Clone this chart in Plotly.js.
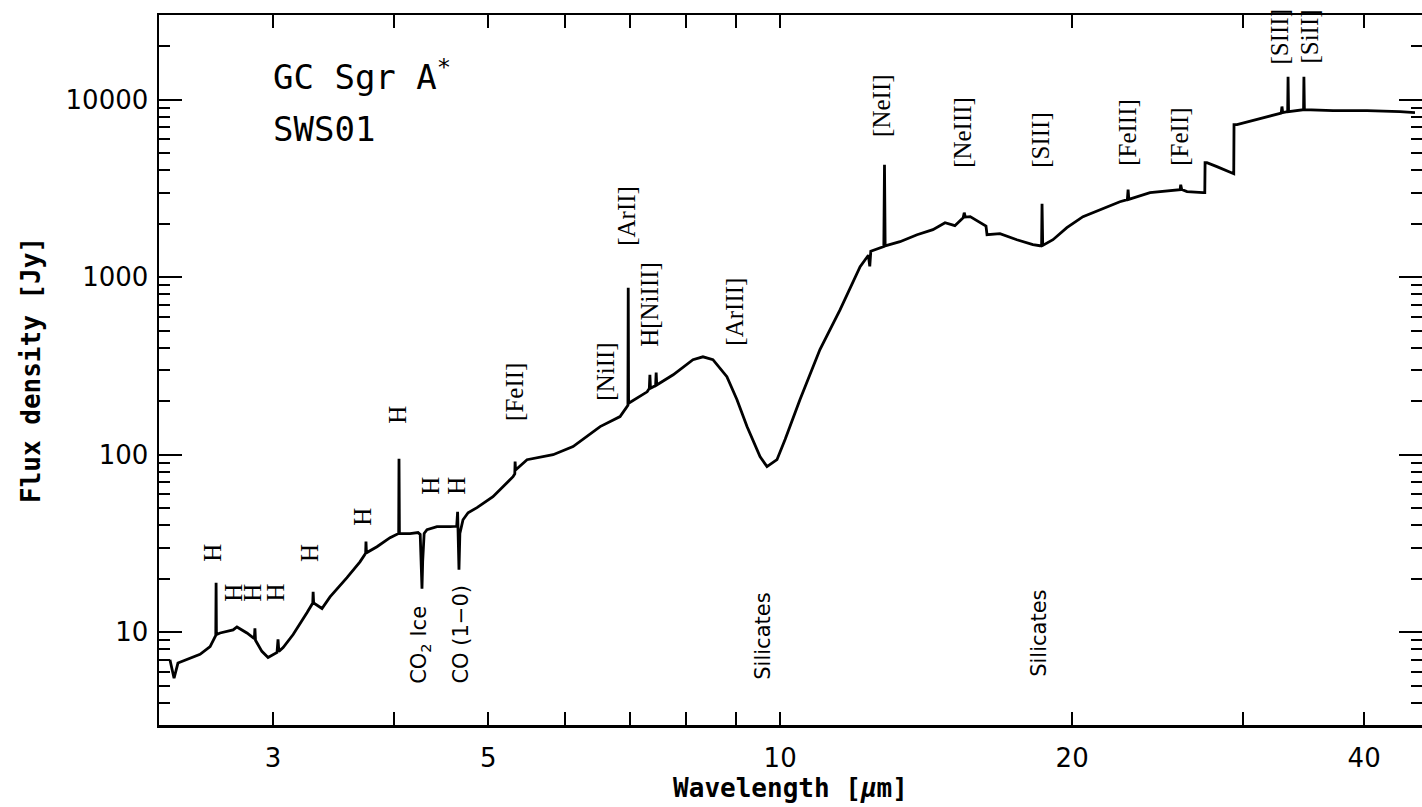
<!DOCTYPE html>
<html>
<head>
<meta charset="utf-8">
<script src="https://cdn.plot.ly/plotly-3.0.1.min.js"></script>
<style>html,body{margin:0;padding:0;background:#fff;}#chart{width:1422px;height:807px;}</style>
</head>
<body>
<div id="chart"></div>
<script>
// ---- data (wavelength in micron, flux density in Jy) ----
const wavelength = [
  2.349, 2.372, 2.394, 2.446, 2.523, 2.584, 2.615, 2.619, 2.621, 2.623, 2.646, 2.729, 2.754, 2.820,
  2.870, 2.874, 2.878, 2.922, 2.965, 3.029, 3.036, 3.042, 3.073, 3.147, 3.253, 3.297, 3.300, 3.304,
  3.370, 3.435, 3.576, 3.688, 3.738, 3.741, 3.745, 3.840, 3.961, 4.036, 4.043, 4.046, 4.050, 4.153,
  4.233, 4.255, 4.268, 4.273, 4.280, 4.295, 4.324, 4.428, 4.567, 4.640, 4.650, 4.658, 4.665, 4.675,
  4.710, 4.767, 4.869, 5.057, 5.304, 5.326, 5.330, 5.336, 5.483, 5.833, 6.116, 6.522, 6.838, 6.953,
  6.967, 6.972, 6.978, 7.292, 7.330, 7.340, 7.350, 7.440, 7.450, 7.460, 7.757, 8.130, 8.325, 8.525,
  8.812, 9.026, 9.243, 9.533, 9.692, 9.924, 10.12, 10.48, 10.99, 11.53, 12.09, 12.33, 12.37, 12.40,
  12.76, 12.79, 12.81, 12.83, 13.29, 13.84, 14.37, 14.79, 15.14, 15.44, 15.48, 15.52, 15.70, 16.19,
  16.30, 16.34, 16.85, 17.54, 18.22, 18.53, 18.60, 18.62, 18.65, 19.11, 19.75, 20.52, 21.37, 22.40,
  22.80, 22.84, 22.88, 24.06, 25.84, 25.88, 25.94, 26.27, 27.29, 27.40, 27.42, 27.54, 28.20, 29.30,
  29.35, 29.37, 29.58, 31.24, 32.85, 32.91, 32.97, 33.36, 33.39, 33.43, 34.64, 34.67, 34.71, 37.15,
  40.27, 43.55, 45.13
];
const flux = [
  7.0, 5.5, 6.7, 7.0, 7.5, 8.3, 9.4, 9.6, 19.0, 9.7, 9.9, 10.3, 10.7, 9.9,
  9.2, 10.5, 9.0, 7.8, 7.2, 7.7, 9.1, 7.8, 8.2, 9.7, 12.9, 14.6, 16.9, 14.6,
  13.6, 15.8, 20.3, 24.9, 27.8, 32.4, 28.0, 30.3, 34.1, 35.9, 36.0, 94.9, 36.0, 35.9,
  36.4, 35.5, 24, 17.6, 25, 36, 37.8, 39.3, 39.3, 39.5, 47.7, 35, 22.5, 36,
  43.0, 47.1, 50.3, 58.0, 75.2, 78, 91.4, 82, 93.7, 100, 111, 144, 164, 186,
  190, 873, 195, 226, 236, 282, 237, 245, 290, 247, 282, 343, 356, 343,
  275, 204, 144, 97.5, 85.6, 93.7, 122, 204, 391, 656, 1146, 1330, 1150, 1400,
  1486, 1490, 4305, 1500, 1585, 1735, 1852, 2028, 1950, 2163, 2309, 2180, 2193, 1977,
  1940, 1735, 1758, 1626, 1524, 1504, 1505, 2596, 1510, 1626, 1900, 2193, 2400, 2661,
  2733, 3112, 2745, 2992, 3112, 3318, 3120, 3033, 2992, 2992, 4416, 4416, 4195, 3828,
  3828, 7231, 7231, 7815, 8400, 9150, 8450, 8557, 13480, 8560, 8780, 13480, 8786, 8670,
  8670, 8557, 8446
];

// line identifications (label text, wavelength and flux level of the label)
const lineNames = ["H", "H", "H", "H", "H", "H", "H", "H", "H",
  "[FeII]", "[NiII]", "[ArII]", "H[NiIII]", "[ArIII]",
  "[NeII]", "[NeIII]", "[SIII]", "[FeIII]", "[FeII]", "[SIII]", "[SiII]"];
const lineWave = [2.602, 2.735, 2.861, 3.021, 3.276, 3.714, 4.036, 4.365, 4.644,
  5.330, 6.600, 6.953, 7.344, 8.982,
  12.74, 15.44, 18.58, 22.84, 25.84, 32.75, 35.17];
const lineLevel = [28.0, 16.7, 16.7, 16.7, 28.0, 44.7, 168, 66.9, 66.9,
  226, 294, 2220, 700, 639,
  9250, 6516, 5953, 6516, 6190, 22650, 22650];

// absorption features
const featureNames = ["CO<sub>2</sub> Ice", "CO (1\u22120)", "Silicates", "Silicates"];
const featureWave = [4.254, 4.677, 9.60, 18.49];
const featureLevel = [8.5, 9.7, 9.55, 9.8];

// axis ticks
const xTickVals = [3, 5, 10, 20, 40];
const xTickText = ["3", "5", "10", "20", "40"];
const xMinorVals = [4, 6, 7, 8, 9, 30];
const yTickVals = [10, 100, 1000, 10000];
const yTickText = ["10", "100", "1000", "10000"];

// ---- figure ----
const lg = Math.log10;
const annotations = [];
lineNames.forEach((t, i) => annotations.push({
  x: lg(lineWave[i]), y: lg(lineLevel[i]), xref: "x", yref: "y", text: t,
  showarrow: false, textangle: -90, xanchor: "center", yanchor: "middle",
  font: {family: "Liberation Serif", size: 25, color: "#000"}
}));
featureNames.forEach((t, i) => annotations.push({
  x: lg(featureWave[i]), y: lg(featureLevel[i]), xref: "x", yref: "y", text: t,
  showarrow: false, textangle: -90, xanchor: "center", yanchor: "middle",
  font: {family: "DejaVu Sans", size: 21, color: "#000"}
}));
annotations.push({
  x: 0.0887, y: 0.9155, xref: "paper", yref: "paper", text: "GC Sgr A<sup>*</sup>",
  showarrow: false, xanchor: "left", yanchor: "middle",
  font: {family: "DejaVu Sans Mono", size: 34, color: "#000"}
});
annotations.push({
  x: 0.0887, y: 0.839, xref: "paper", yref: "paper", text: "SWS01",
  showarrow: false, xanchor: "left", yanchor: "middle",
  font: {family: "DejaVu Sans Mono", size: 34, color: "#000"}
});

const trace = {
  x: wavelength, y: flux, type: "scatter", mode: "lines",
  line: {color: "#000", width: 2.8}, hoverinfo: "skip"
};

const layout = {
  width: 1422, height: 807,
  margin: {l: 159, r: 0, t: 15, b: 82},
  paper_bgcolor: "#fff", plot_bgcolor: "#fff",
  showlegend: false,
  xaxis: {
    type: "log", range: [0.3596, 1.6617], autorange: false,
    tickmode: "array", tickvals: xTickVals, ticktext: xTickText,
    ticks: "inside", ticklen: 13, tickwidth: 2, tickcolor: "#000",
    minor: {tickmode: "array", tickvals: xMinorVals, ticks: "inside", ticklen: 13, tickwidth: 2, tickcolor: "#000", showgrid: false},
    showline: true, linecolor: "#000", linewidth: 2.5, mirror: "ticks",
    showgrid: false, zeroline: false,
    tickfont: {family: "DejaVu Sans", size: 26, color: "#000"},
    ticklabelstandoff: 8,
    title: {text: "Wavelength [<i>\u03bc</i>m]", standoff: 2,
      font: {family: "DejaVu Sans Mono", size: 26, color: "#000", weight: "bold"}}
  },
  yaxis: {
    type: "log", range: [Math.log10(3), Math.log10(30000)], autorange: false,
    tickmode: "array", tickvals: yTickVals, ticktext: yTickText,
    ticks: "inside", ticklen: 23, tickwidth: 2, tickcolor: "#000",
    minor: {ticks: "inside", ticklen: 11, tickwidth: 2, tickcolor: "#000", dtick: "D1", showgrid: false},
    showline: true, linecolor: "#000", linewidth: 2.5, mirror: "ticks",
    showgrid: false, zeroline: false,
    tickfont: {family: "DejaVu Sans", size: 26, color: "#000"},
    ticklabelstandoff: 3,
    title: {text: "Flux density [Jy]", standoff: 18,
      font: {family: "DejaVu Sans Mono", size: 26, color: "#000", weight: "bold"}}
  },
  annotations: annotations
};

Plotly.newPlot("chart", [trace], layout, {staticPlot: true, displayModeBar: false});
</script>
</body>
</html>
